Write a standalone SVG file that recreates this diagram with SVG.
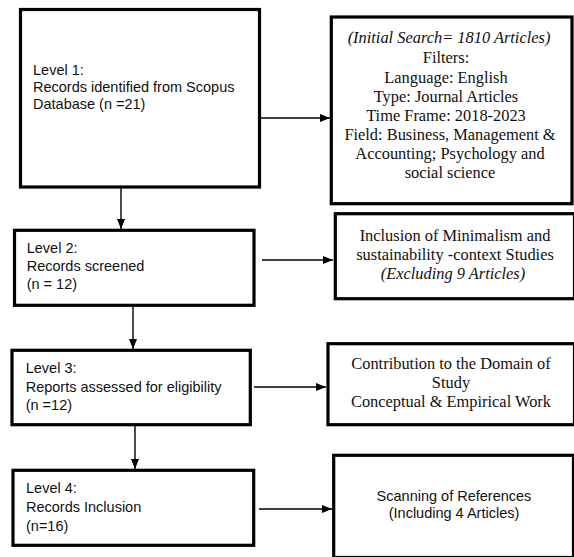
<svg xmlns="http://www.w3.org/2000/svg" width="574" height="557" viewBox="0 0 574 557">
<style>
.box{fill:#fff;stroke:#000;stroke-width:3.2}
.sans{font-family:"Liberation Sans",Arial,sans-serif;font-size:14.5px;fill:#111}
.serif{font-family:"Liberation Serif","Times New Roman",serif;font-size:16.4px;fill:#111;text-anchor:middle}
.it{font-style:italic}
.conn{stroke:#000;stroke-width:1.4;fill:none;marker-end:url(#ah)}
</style>
<defs>
<marker id="ah" markerUnits="userSpaceOnUse" markerWidth="10" markerHeight="10" viewBox="0 0 10 10" refX="10" refY="5" orient="auto">
<path d="M0,1 L10,5 L0,9 Z" fill="#000"/>
</marker>
</defs>
<rect width="574" height="557" fill="#fff"/>
<g id="connectors">
<line class="conn" x1="259" y1="118" x2="330" y2="118"/>
<line class="conn" x1="121" y1="188" x2="121" y2="229"/>
<line class="conn" x1="262" y1="260" x2="333" y2="260"/>
<line class="conn" x1="133" y1="307" x2="133" y2="349"/>
<line class="conn" x1="254" y1="387" x2="326" y2="387"/>
<line class="conn" x1="135" y1="426" x2="135" y2="469"/>
<line class="conn" x1="259" y1="509" x2="332" y2="509"/>
</g>
<g id="level1">
<rect class="box" x="20.5" y="9.5" width="239" height="177.5"/>
<text class="sans" x="33" y="75">Level 1:</text>
<text class="sans" x="33" y="92">Records identified from Scopus</text>
<text class="sans" x="33" y="108.5">Database (n =21)</text>
</g>
<g id="filters">
<rect class="box" x="331.3" y="17" width="240.7" height="186.7"/>
<text class="serif it" x="449" y="43.3">(Initial Search= 1810 Articles)</text>
<text class="serif" x="446" y="63">Filters:</text>
<text class="serif" x="446" y="82.5">Language: English</text>
<text class="serif" x="446" y="101.5">Type: Journal Articles</text>
<text class="serif" x="446" y="120.5">Time Frame: 2018-2023</text>
<text class="serif" x="450" y="139.5">Field: Business, Management &amp;</text>
<text class="serif" x="450" y="158.5">Accounting; Psychology and</text>
<text class="serif" x="450" y="177.5">social science</text>
</g>
<g id="level2">
<rect class="box" x="14.5" y="230.3" width="239.5" height="75"/>
<text class="sans" x="26.7" y="253.3">Level 2:</text>
<text class="sans" x="26.7" y="271">Records screened</text>
<text class="sans" x="26.7" y="288.5">(n = 12)</text>
</g>
<g id="inclusion">
<rect class="box" x="335.3" y="213.7" width="239.2" height="85"/>
<text class="serif" x="455" y="241">Inclusion of Minimalism and</text>
<text class="serif" x="455" y="260">sustainability -context Studies</text>
<text class="serif it" x="453" y="279">(Excluding 9 Articles)</text>
</g>
<g id="level3">
<rect class="box" x="12" y="350.3" width="238.3" height="74.4"/>
<text class="sans" x="25.7" y="373.3">Level 3:</text>
<text class="sans" x="25.7" y="391.5">Reports assessed for eligibility</text>
<text class="sans" x="25.7" y="409.5">(n =12)</text>
</g>
<g id="contribution">
<rect class="box" x="328" y="343.7" width="246.5" height="81"/>
<text class="serif" x="451" y="368.5">Contribution to the Domain of</text>
<text class="serif" x="451" y="388">Study</text>
<text class="serif" x="451" y="407">Conceptual &amp; Empirical Work</text>
</g>
<g id="level4">
<rect class="box" x="13" y="470.3" width="240.7" height="75"/>
<text class="sans" x="26" y="493.3">Level 4:</text>
<text class="sans" x="26" y="512.3">Records Inclusion</text>
<text class="sans" x="26" y="530.5">(n=16)</text>
</g>
<g id="scanning">
<rect class="box" x="333.7" y="455.3" width="239.8" height="102.2"/>
<text class="sans" x="454" y="501" text-anchor="middle">Scanning of References</text>
<text class="sans" x="454" y="518" text-anchor="middle">(Including 4 Articles)</text>
</g>
</svg>
